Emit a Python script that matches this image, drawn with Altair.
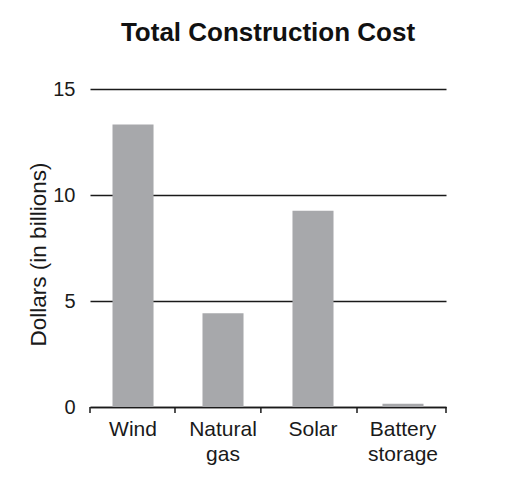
import altair as alt
import pandas as pd

categories = ["Wind", "Natural gas", "Solar", "Battery storage"]
values = [13.33, 4.42, 9.26, 0.15]
y_ticks = [0, 5, 10, 15]
# category boundary tick positions (in category units, 0 = left edge, 4 = right edge)
x_boundaries = [0, 0.955, 1.92, 3.0, 4]

df = pd.DataFrame({"source": categories, "cost": values})
ticks_df = pd.DataFrame({"pos": x_boundaries})

FONT = "Liberation Sans"
INK = "#1a1a1a"
H = 318

bars = alt.Chart(df).mark_bar(color="#a7a8ab").encode(
    x=alt.X(
        "source:N",
        sort=categories,
        scale=alt.Scale(paddingInner=0.544, paddingOuter=0.25),
        axis=alt.Axis(
            title=None,
            labelAngle=0,
            labelExpr="split(datum.label, ' ')",
            labelFont=FONT,
            labelFontSize=21,
            labelColor=INK,
            labelLineHeight=25,
            labelPadding=11,
            ticks=False,
            domainColor=INK,
            domainWidth=1.5,
        ),
    ),
    y=alt.Y(
        "cost:Q",
        scale=alt.Scale(domain=[0, 15], nice=False),
        axis=alt.Axis(
            title="Dollars (in billions)",
            values=y_ticks,
            domain=False,
            ticks=False,
            grid=True,
            gridColor=INK,
            gridWidth=1.4,
            labelFont=FONT,
            labelFontSize=20,
            labelColor=INK,
            labelPadding=15,
            titleFont=FONT,
            titleFontSize=22.5,
            titleFontWeight="normal",
            titleColor=INK,
            titleX=-52,
            titleY=165,
            titleAngle=-90,
            titleAlign="center",
            titleBaseline="middle",
        ),
    ),
)

ticks = alt.Chart(ticks_df).mark_rule(color=INK, strokeWidth=1.5).encode(
    x=alt.X("pos:Q", scale=alt.Scale(domain=[0, 4], nice=False, zero=False), axis=None),
    y=alt.value(H),
    y2=alt.value(H + 6),
)

chart = alt.layer(bars, ticks).resolve_scale(x="independent").properties(
    width=356,
    height=H,
    title=alt.TitleParams(
        "Total Construction Cost",
        font=FONT,
        fontSize=26,
        fontWeight="bold",
        color="#111111",
        anchor="middle",
        baseline="bottom",
        offset=7,
    ),
    autosize=alt.AutoSizeParams(type="none"),
    padding={"left": 82, "top": 81, "right": 50, "bottom": 65},
).configure_view(stroke=None)

chart.save("out.html", embed_options={"renderer": "svg", "actions": False})
